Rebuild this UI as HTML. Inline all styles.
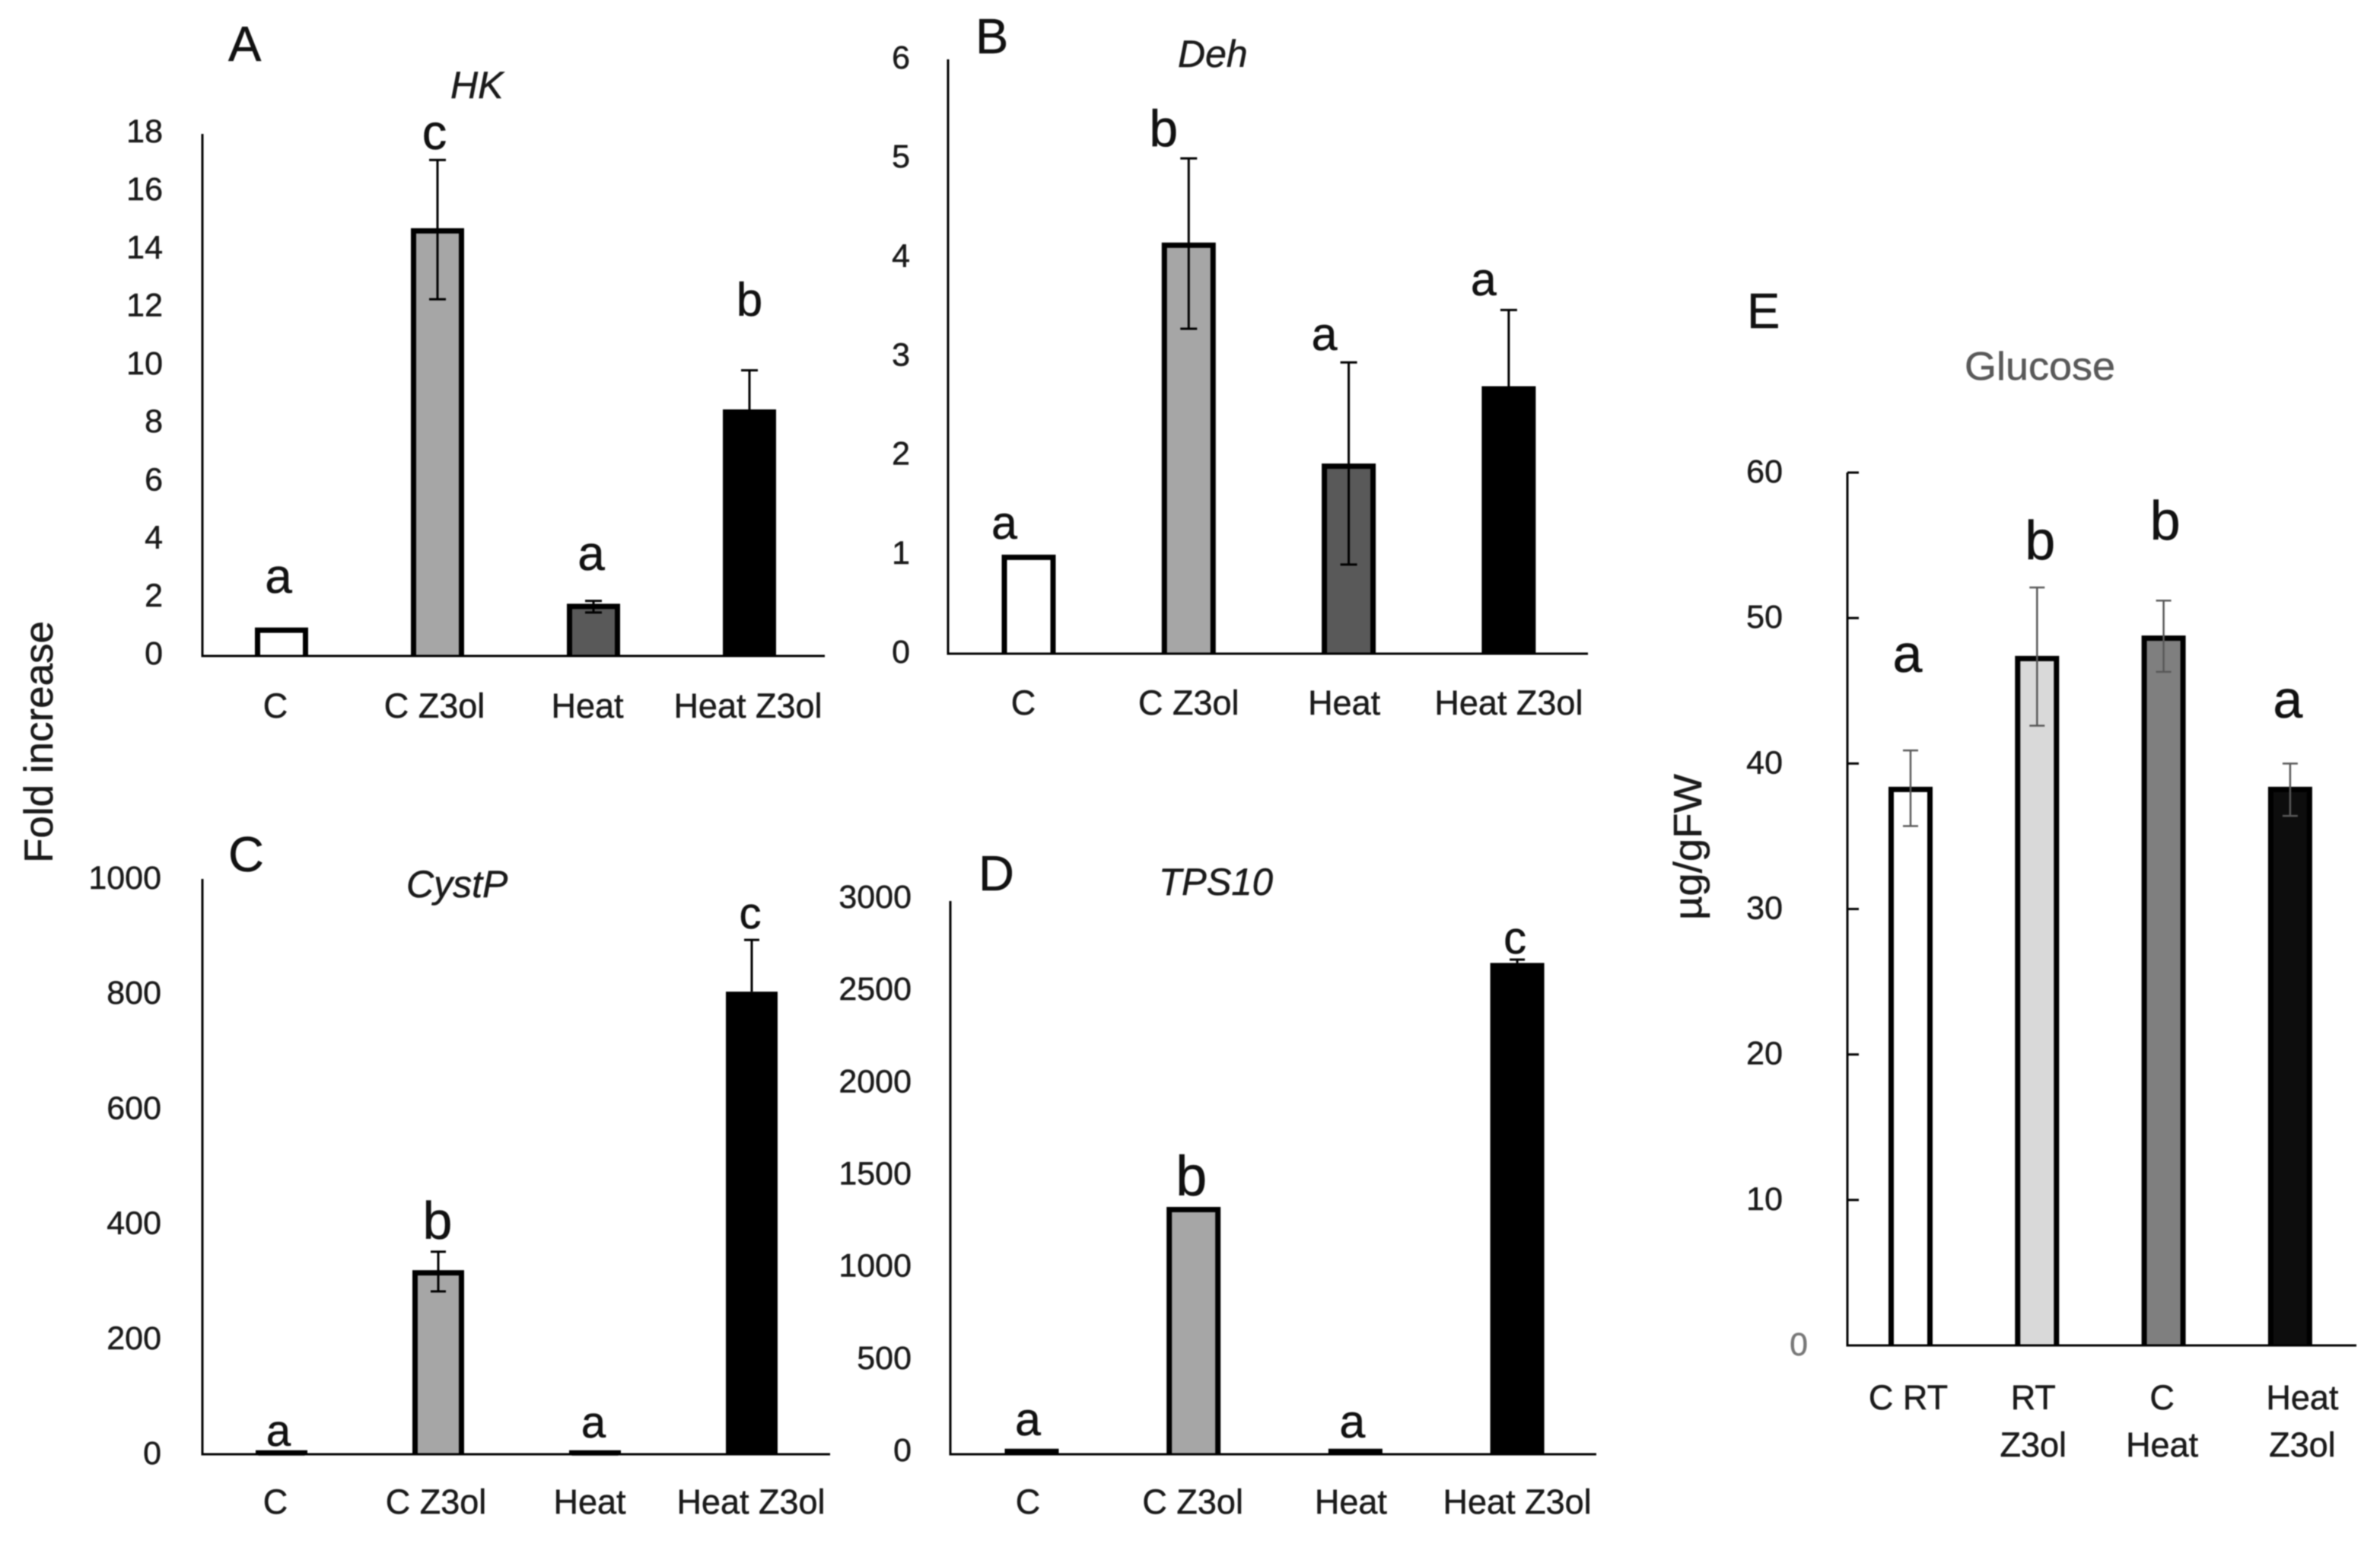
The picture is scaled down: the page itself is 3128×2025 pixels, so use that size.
<!DOCTYPE html>
<html lang="en">
<head>
<meta charset="utf-8">
<title>Fold increase and glucose bar charts</title>
<style>
  html, body { margin: 0; padding: 0; background: #fff; }
  svg { display: block; filter: blur(0.7px); }
  text { font-family: "Liberation Sans", "DejaVu Sans", sans-serif; fill: #1a1a1a; stroke: #1a1a1a; stroke-width: 0.5px; }
  .panel-letter { font-size: 65px; fill: #111; }
  .gene-title { font-size: 50px; font-style: italic; }
</style>
</head>
<body>
<svg id="figure" xmlns="http://www.w3.org/2000/svg" width="3128" height="2025" viewBox="0 0 3128 2025">
  <rect x="0" y="0" width="3128" height="2025" fill="#ffffff"/>

  <text class="panel-letter" x="300" y="80">A</text>
  <text class="panel-letter" x="1282" y="70">B</text>
  <text class="panel-letter" x="300" y="1145">C</text>
  <text class="panel-letter" x="1286" y="1170">D</text>
  <text class="panel-letter" x="2296" y="431">E</text>

  <text class="gene-title" x="592" y="129">HK</text>
  <text class="gene-title" x="1548" y="88">Deh</text>
  <text class="gene-title" x="534" y="1179">CystP</text>
  <text class="gene-title" x="1523" y="1176" textLength="150" lengthAdjust="spacingAndGlyphs">TPS10</text>
  <text x="2582" y="499" textLength="198" lengthAdjust="spacingAndGlyphs" style="font-size:52px;fill:#595959;stroke:#595959">Glucose</text>

  <text transform="translate(69 975) rotate(-90)" text-anchor="middle" textLength="318" lengthAdjust="spacingAndGlyphs" style="font-size:53px">Fold increase</text>
  <text transform="translate(2236 1113) rotate(-90)" text-anchor="middle" textLength="192" lengthAdjust="spacingAndGlyphs" style="font-size:52px">µg/gFW</text>
</svg>

<script>
// ---- shared categories ----
const geneCategories = [["C"], ["C Z3ol"], ["Heat"], ["Heat Z3ol"]];
const glucoseCategories = [["C RT"], ["RT", "Z3ol"], ["C", "Heat"], ["Heat", "Z3ol"]];

// ---- panel A: HK ----
const hkTicks = [0, 2, 4, 6, 8, 10, 12, 14, 16, 18];
const hkValues = [0.98, 14.75, 1.8, 8.5];
const hkErrHigh = [null, 17.1, 1.9, 9.85];
const hkErrLow = [null, 12.3, 1.5, null];
const hkLetters = ["a", "c", "a", "b"];

// ---- panel B: Deh ----
const dehTicks = [0, 1, 2, 3, 4, 5, 6];
const dehValues = [1.0, 4.15, 1.92, 2.7];
const dehErrHigh = [null, 5.0, 2.94, 3.47];
const dehErrLow = [null, 3.28, 0.9, null];
const dehLetters = ["a", "b", "a", "a"];

// ---- panel C: CystP ----
const cystTicks = [0, 200, 400, 600, 800, 1000];
const cystValues = [7, 320, 7, 804];
const cystErrHigh = [null, 352, null, 894];
const cystErrLow = [null, 283, null, null];
const cystLetters = ["a", "b", "a", "c"];

// ---- panel D: TPS10 ----
const tpsTicks = [0, 500, 1000, 1500, 2000, 2500, 3000];
const tpsValues = [30, 1341, 30, 2664];
const tpsErrHigh = [null, null, null, 2682];
const tpsErrLow = [null, null, null, null];
const tpsLetters = ["a", "b", "a", "c"];

// ---- panel E: Glucose ----
const glucoseTicks = [0, 10, 20, 30, 40, 50, 60];
const glucoseValues = [38.4, 47.4, 48.8, 38.4];
const glucoseErrHigh = [40.9, 52.1, 51.2, 40];
const glucoseErrLow = [35.7, 42.6, 46.3, 36.4];
const glucoseLetters = ["a", "b", "b", "a"];

const geneFills = ["#ffffff", "#a6a6a6", "#595959", "#000000"];
const glucoseFills = ["#ffffff", "#d9d9d9", "#7f7f7f", "#0d0d0d"];

const panels = [
  { id: "hk", categories: geneCategories, ticks: hkTicks, values: hkValues, errHigh: hkErrHigh, errLow: hkErrLow, letters: hkLetters, fills: geneFills,
    layout: { axisX: 266, axisEnd: 1084, yTop: 176, yBase: 862, barStart: 370, barStep: 205, barW: 70, sw: 7, tickRight: 214, tickDy: 11, catBase: 943, catDx: [-8, -4, -8, -2], errColor: "#000", capW: 22,
      letterDx: [-4, -4, -3, 0], letterBase: [779, 196, 749, 415], letterSize: [64, 65, 64, 62] } },
  { id: "deh", categories: geneCategories, ticks: dehTicks, values: dehValues, errHigh: dehErrHigh, errLow: dehErrLow, letters: dehLetters, fills: geneFills,
    layout: { axisX: 1246, axisEnd: 2087, yTop: 78, yBase: 859, barStart: 1352, barStep: 210.3, barW: 71, sw: 7, tickRight: 1196, tickDy: 12, catBase: 939, catDx: [-7, 0, -6, 0], errColor: "#000", capW: 22,
      letterDx: [-32, -33, -32, -33], letterBase: [708, 192, 460, 388], letterSize: [61, 68, 61, 61] } },
  { id: "cystp", categories: geneCategories, ticks: cystTicks, values: cystValues, errHigh: cystErrHigh, errLow: cystErrLow, letters: cystLetters, fills: geneFills,
    layout: { axisX: 266, axisEnd: 1091, yTop: 1155, yBase: 1911, barStart: 370, barStep: 206, barW: 68, sw: 7, tickRight: 212, tickDy: 13, catBase: 1989, catDx: [-8, -3, -7, -1], errColor: "#000", capW: 20,
      letterDx: [-4, -1, -2, -2], letterBase: [1900, 1628, 1889, 1220], letterSize: [58, 70, 58, 58] } },
  { id: "tps10", categories: geneCategories, ticks: tpsTicks, values: tpsValues, errHigh: tpsErrHigh, errLow: tpsErrLow, letters: tpsLetters, fills: geneFills,
    layout: { axisX: 1249, axisEnd: 2098, yTop: 1184, yBase: 1911, barStart: 1356, barStep: 212.7, barW: 71, sw: 7, tickRight: 1198, tickDy: 9, catBase: 1989, catDx: [-5, -1, -6, 0], errColor: "#000", capW: 20,
      letterDx: [-5, -3, -4, -3], letterBase: [1886, 1571, 1889, 1253], letterSize: [61, 74, 61, 60] } },
  { id: "glucose", categories: glucoseCategories, ticks: glucoseTicks, values: glucoseValues, errHigh: glucoseErrHigh, errLow: glucoseErrLow, letters: glucoseLetters, fills: glucoseFills,
    layout: { axisX: 2428, axisEnd: 3097, yTop: 621, yBase: 1768, barStart: 2511, barStep: 166.3, barW: 58, sw: 7, tickRight: 2343, tickDy: 13, catBase: 1852, catLine: 62, catDx: [-3, -5, -2, 16], errColor: "#595959", capW: 20, errW: 2.5, tickLen: 15,
      letterDx: [-4, 4, 2, -3], letterBase: [883, 735, 709, 943], letterSize: [70, 72, 72, 70], zeroDx: 33, zeroFill: "#777777" } }
];

const figure = document.getElementById("figure");
const SVG_NS = "http://www.w3.org/2000/svg";

function make(tag, attrs, parent, content) {
  const el = document.createElementNS(SVG_NS, tag);
  for (const key of Object.keys(attrs)) el.setAttribute(key, attrs[key]);
  if (content !== undefined) el.textContent = content;
  parent.appendChild(el);
  return el;
}

function drawPanel(panel) {
  const L = panel.layout;
  const maxTick = panel.ticks[panel.ticks.length - 1];
  const yScale = v => L.yBase - (v / maxTick) * (L.yBase - L.yTop);
  const xScale = i => L.barStart + i * L.barStep;

  const group = make("g", {}, figure);
  
  

  panel.ticks.forEach(tick => {
    const isShiftedZero = tick === 0 && L.zeroDx;
    const label = make("text", {
      x: L.tickRight + (isShiftedZero ? L.zeroDx : 0),
      y: yScale(tick) + L.tickDy,
      "text-anchor": "end",
      style: "font-size:43px" + (isShiftedZero ? ";fill:" + L.zeroFill + ";stroke:" + L.zeroFill : "")
    }, group, String(tick));
    
    

    if (L.tickLen) {
      const mark = make("line", { x1: L.axisX, x2: L.axisX + L.tickLen, y1: yScale(tick), y2: yScale(tick), stroke: "#000", "stroke-width": 3 }, group);
      
      
    }
  });

  panel.values.forEach((value, i) => {
    const cx = xScale(i);
    const top = yScale(value) + L.sw / 2;
    const left = cx - L.barW / 2 + L.sw / 2;
    const right = cx + L.barW / 2 - L.sw / 2;
    const bar = make("path", {
      d: "M" + left + " " + L.yBase + " V" + top + " H" + right + " V" + L.yBase,
      fill: panel.fills[i],
      stroke: "#000",
      "stroke-width": L.sw
    }, group);
    
    

    const high = panel.errHigh[i];
    const low = panel.errLow[i];
    if (high !== null) {
      const bottom = low !== null ? low : value;
      const errW = L.errW || 3;
      const stem = make("line", { x1: cx, x2: cx, y1: yScale(high), y2: yScale(bottom), stroke: L.errColor, "stroke-width": errW }, group);
      
      

      const capHigh = make("line", { x1: cx - L.capW / 2, x2: cx + L.capW / 2, y1: yScale(high), y2: yScale(high), stroke: L.errColor, "stroke-width": errW }, group);
      
      

      if (low !== null) {
        const capLow = make("line", { x1: cx - L.capW / 2, x2: cx + L.capW / 2, y1: yScale(low), y2: yScale(low), stroke: L.errColor, "stroke-width": errW }, group);
        
        
      }
    }

    const letter = make("text", {
      x: cx + L.letterDx[i],
      y: L.letterBase[i],
      "text-anchor": "middle",
      style: "font-size:" + L.letterSize[i] + "px;fill:#111"
    }, group, panel.letters[i]);
    
    

    panel.categories[i].forEach((line, lineIndex) => {
      const cat = make("text", {
        x: cx + L.catDx[i],
        y: L.catBase + lineIndex * (L.catLine || 0),
        "text-anchor": "middle",
        style: "font-size:45px"
      }, group, line);
      
      
    });
  });

  const yAxis = make("line", { x1: L.axisX, x2: L.axisX, y1: L.yTop, y2: L.yBase + 1.5, stroke: "#000", "stroke-width": 3 }, group);
  
  

  const xAxis = make("line", { x1: L.axisX, x2: L.axisEnd, y1: L.yBase, y2: L.yBase, stroke: "#000", "stroke-width": 3 }, group);
  
  
}

panels.forEach(drawPanel);
</script>
</body>
</html>
